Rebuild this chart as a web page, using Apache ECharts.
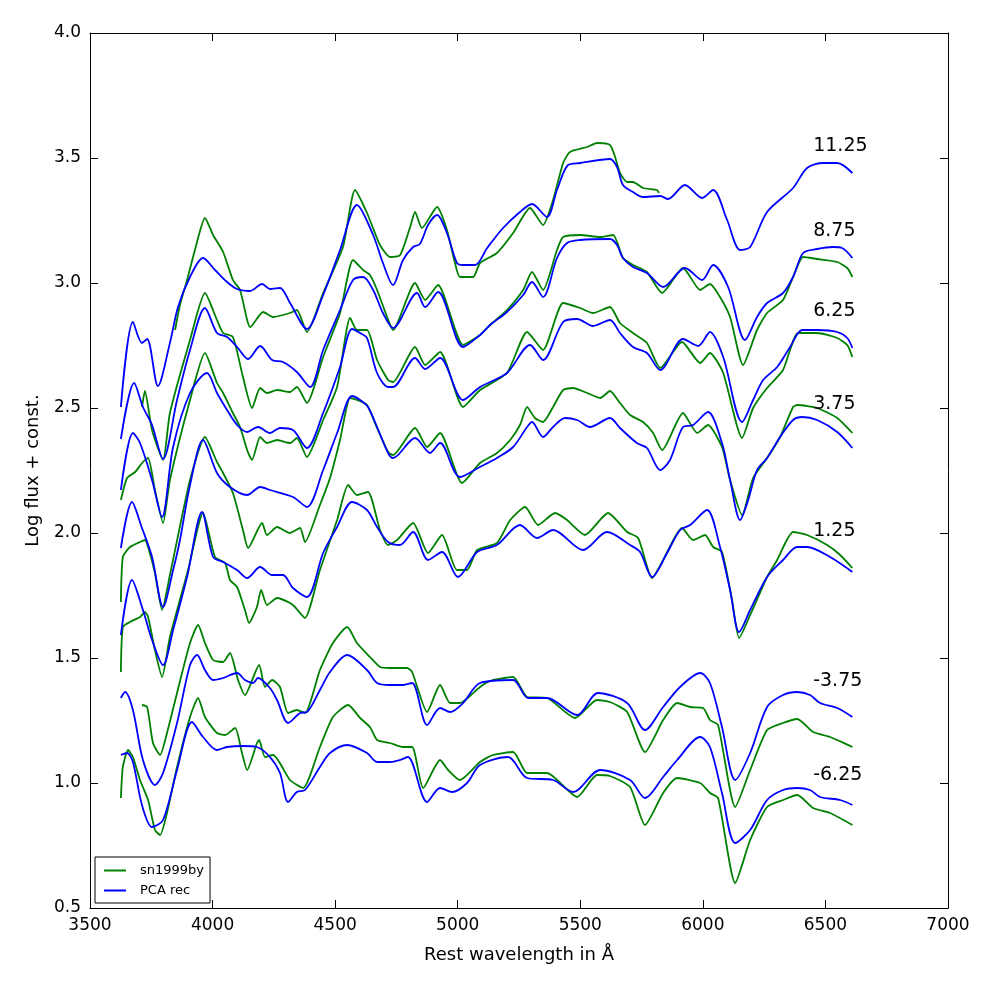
<!DOCTYPE html>
<html>
<head>
<meta charset="utf-8">
<script src="https://cdn.jsdelivr.net/npm/echarts@6/dist/echarts.min.js"></script>
<style>html,body{margin:0;padding:0;background:#fff;}#chart{width:997px;height:997px;}</style>
</head>
<body>
<div id="chart"></div>
<script>
// ---- data (wavelength in Angstrom, log flux + const.) ----
const phases = ['11.25', '8.75', '6.25', '3.75', '1.25', '-3.75', '-6.25'];
const phaseLabelX = 6450;
const phaseLabelY = [3.548, 3.208, 2.888, 2.516, 2.008, 1.408, 1.032];

const pca_11_25 = [[3626,2.504],[3675,2.844],[3712,2.760],[3733,2.776],[3777,2.588],[3826,2.760],[3859,2.904],[3908,3.024],[3961,3.100],[4010,3.052],[4059,3.004],[4100,2.976],[4153,2.968],[4202,2.996],[4234,2.976],[4275,2.980],[4316,2.920],[4385,2.816],[4451,2.952],[4520,3.132],[4589,3.312],[4655,3.192],[4695,3.080],[4736,2.992],[4777,3.092],[4818,3.144],[4846,3.156],[4879,3.232],[4916,3.272],[4956,3.200],[4997,3.080],[5022,3.072],[5071,3.072],[5120,3.140],[5185,3.220],[5254,3.284],[5303,3.316],[5364,3.264],[5405,3.372],[5450,3.472],[5499,3.480],[5621,3.496],[5650,3.464],[5674,3.392],[5715,3.364],[5756,3.344],[5826,3.348],[5858,3.336],[5927,3.392],[5997,3.340],[6042,3.372],[6099,3.252],[6152,3.132],[6193,3.144],[6262,3.284],[6368,3.380],[6425,3.460],[6490,3.480],[6548,3.480],[6610,3.440]];
const sn_11_25 = [[3847,2.812],[3867,2.912],[3896,3.012],[3928,3.132],[3969,3.260],[4002,3.192],[4043,3.124],[4083,3.012],[4112,2.972],[4141,2.852],[4153,2.824],[4206,2.884],[4247,2.864],[4316,2.880],[4344,2.892],[4385,2.804],[4451,2.960],[4532,3.144],[4581,3.372],[4630,3.280],[4683,3.152],[4724,3.104],[4765,3.112],[4806,3.224],[4826,3.284],[4854,3.220],[4916,3.304],[4956,3.212],[4989,3.080],[5009,3.024],[5063,3.024],[5091,3.080],[5160,3.120],[5226,3.200],[5295,3.300],[5348,3.232],[5389,3.332],[5430,3.480],[5458,3.524],[5528,3.544],[5568,3.560],[5621,3.552],[5642,3.504],[5662,3.440],[5691,3.404],[5715,3.404],[5756,3.380],[5813,3.372],[5821,3.360]];

const pca_8_75 = [[3626,2.376],[3680,2.600],[3716,2.504],[3753,2.432],[3798,2.296],[3855,2.532],[3908,2.732],[3969,2.900],[4018,2.800],[4059,2.784],[4100,2.744],[4145,2.696],[4194,2.748],[4243,2.692],[4287,2.684],[4344,2.644],[4398,2.584],[4451,2.732],[4520,2.892],[4573,3.012],[4614,3.024],[4655,2.972],[4695,2.880],[4736,2.820],[4834,2.960],[4867,2.904],[4920,2.964],[5022,2.744],[5091,2.792],[5132,2.832],[5201,2.884],[5267,2.952],[5303,3.004],[5348,2.944],[5405,3.100],[5446,3.160],[5499,3.172],[5621,3.176],[5650,3.152],[5674,3.100],[5715,3.064],[5772,3.040],[5838,2.984],[5927,3.060],[5997,3.012],[6042,3.072],[6103,2.984],[6172,2.772],[6221,2.864],[6262,2.920],[6327,2.960],[6368,3.024],[6409,3.120],[6466,3.136],[6531,3.144],[6568,3.140],[6610,3.100]];
const sn_8_75 = [[3712,2.504],[3724,2.568],[3753,2.412],[3798,2.292],[3826,2.480],[3908,2.772],[3969,2.960],[4018,2.852],[4043,2.800],[4083,2.784],[4124,2.624],[4161,2.500],[4194,2.580],[4222,2.560],[4263,2.572],[4316,2.564],[4344,2.584],[4385,2.520],[4451,2.704],[4520,2.880],[4573,3.092],[4614,3.052],[4642,3.032],[4671,2.972],[4712,2.864],[4736,2.812],[4826,3.000],[4867,2.932],[4920,2.992],[5022,2.752],[5091,2.792],[5132,2.832],[5201,2.892],[5267,2.972],[5303,3.044],[5348,2.972],[5405,3.132],[5430,3.184],[5499,3.192],[5581,3.184],[5634,3.192],[5674,3.100],[5715,3.072],[5772,3.044],[5834,2.960],[5919,3.060],[5989,2.972],[6029,2.996],[6070,2.944],[6111,2.864],[6164,2.672],[6221,2.812],[6262,2.880],[6327,2.932],[6368,3.024],[6409,3.104],[6466,3.096],[6548,3.084],[6589,3.060],[6610,3.024]];

const pca_6_25 = [[3626,2.172],[3675,2.400],[3704,2.360],[3753,2.212],[3794,2.064],[3839,2.344],[3908,2.560],[3977,2.640],[4018,2.560],[4059,2.492],[4100,2.432],[4141,2.404],[4185,2.424],[4234,2.400],[4275,2.420],[4328,2.412],[4385,2.340],[4451,2.480],[4520,2.664],[4569,2.816],[4602,2.800],[4630,2.780],[4671,2.640],[4716,2.584],[4736,2.584],[4826,2.700],[4867,2.656],[4928,2.700],[5022,2.532],[5091,2.584],[5201,2.640],[5295,2.752],[5348,2.692],[5430,2.844],[5487,2.856],[5552,2.828],[5621,2.852],[5662,2.800],[5715,2.744],[5772,2.720],[5826,2.652],[5919,2.776],[5981,2.748],[6029,2.804],[6083,2.704],[6160,2.444],[6205,2.532],[6246,2.612],[6303,2.664],[6356,2.744],[6405,2.812],[6466,2.812],[6548,2.804],[6589,2.780],[6610,2.740]];
const sn_6_25 = [[3626,2.132],[3651,2.220],[3684,2.244],[3716,2.284],[3737,2.300],[3765,2.172],[3798,2.040],[3826,2.212],[3908,2.532],[3969,2.720],[4018,2.600],[4043,2.560],[4083,2.480],[4112,2.424],[4141,2.332],[4161,2.292],[4194,2.384],[4222,2.360],[4263,2.372],[4316,2.360],[4344,2.380],[4385,2.304],[4451,2.452],[4508,2.584],[4561,2.860],[4589,2.812],[4630,2.812],[4671,2.692],[4716,2.612],[4736,2.604],[4826,2.744],[4867,2.672],[4928,2.724],[5022,2.504],[5091,2.572],[5201,2.640],[5283,2.804],[5348,2.732],[5430,2.920],[5499,2.900],[5552,2.880],[5621,2.904],[5662,2.840],[5715,2.800],[5772,2.760],[5826,2.660],[5915,2.764],[5989,2.680],[6029,2.720],[6083,2.640],[6160,2.380],[6205,2.500],[6262,2.580],[6327,2.652],[6389,2.800],[6466,2.800],[6548,2.780],[6589,2.752],[6610,2.704]];

const pca_3_75 = [[3626,1.940],[3671,2.124],[3712,2.020],[3753,1.904],[3798,1.704],[3839,1.852],[3867,1.972],[3908,2.192],[3961,2.372],[4018,2.240],[4071,2.184],[4141,2.152],[4194,2.184],[4234,2.172],[4328,2.144],[4385,2.104],[4451,2.252],[4508,2.400],[4569,2.548],[4602,2.532],[4634,2.504],[4671,2.424],[4716,2.320],[4736,2.300],[4826,2.380],[4887,2.320],[4928,2.360],[5009,2.224],[5091,2.264],[5160,2.300],[5226,2.344],[5283,2.424],[5303,2.444],[5348,2.384],[5389,2.424],[5438,2.460],[5487,2.452],[5540,2.424],[5621,2.460],[5662,2.420],[5731,2.360],[5772,2.340],[5826,2.252],[5866,2.292],[5919,2.424],[5960,2.432],[6021,2.484],[6078,2.360],[6111,2.212],[6152,2.052],[6185,2.132],[6221,2.252],[6262,2.300],[6315,2.384],[6368,2.452],[6405,2.464],[6466,2.452],[6548,2.404],[6610,2.340]];
const sn_3_75 = [[3626,1.724],[3634,1.904],[3663,1.944],[3704,1.964],[3724,1.972],[3737,1.944],[3765,1.840],[3794,1.692],[3826,1.832],[3908,2.212],[3969,2.384],[4018,2.284],[4043,2.240],[4083,2.160],[4124,2.012],[4145,1.940],[4202,2.040],[4222,1.992],[4263,2.024],[4316,2.000],[4357,2.020],[4377,1.964],[4438,2.112],[4479,2.220],[4520,2.372],[4561,2.540],[4589,2.532],[4630,2.512],[4671,2.420],[4716,2.324],[4736,2.312],[4826,2.420],[4875,2.344],[4928,2.400],[5018,2.200],[5091,2.280],[5160,2.320],[5214,2.372],[5254,2.432],[5283,2.504],[5315,2.460],[5348,2.444],[5389,2.504],[5430,2.572],[5471,2.580],[5528,2.560],[5581,2.540],[5621,2.568],[5662,2.520],[5703,2.472],[5756,2.444],[5797,2.400],[5834,2.332],[5919,2.480],[5977,2.400],[6021,2.432],[6078,2.344],[6111,2.212],[6160,2.072],[6205,2.220],[6262,2.300],[6315,2.384],[6368,2.504],[6385,2.512],[6466,2.500],[6548,2.460],[6610,2.400]];

const pca_1_25 = [[3626,1.592],[3671,1.812],[3716,1.692],[3753,1.572],[3798,1.472],[3839,1.612],[3896,1.824],[3957,2.084],[4002,1.904],[4043,1.884],[4100,1.852],[4141,1.820],[4194,1.864],[4243,1.832],[4287,1.832],[4328,1.780],[4385,1.744],[4451,1.920],[4508,2.024],[4569,2.124],[4630,2.092],[4671,2.024],[4716,1.964],[4765,1.952],[4818,2.004],[4879,1.892],[4936,1.924],[5001,1.824],[5079,1.924],[5160,1.952],[5254,2.032],[5324,1.980],[5389,2.012],[5511,1.932],[5609,2.004],[5703,1.952],[5744,1.924],[5793,1.824],[5854,1.920],[5907,2.012],[5948,2.032],[6017,2.092],[6070,1.944],[6111,1.772],[6148,1.604],[6193,1.692],[6262,1.824],[6327,1.892],[6385,1.944],[6425,1.944],[6519,1.904],[6610,1.844]];
const sn_1_25 = [[3626,1.444],[3634,1.624],[3663,1.644],[3704,1.664],[3724,1.684],[3737,1.664],[3765,1.532],[3794,1.424],[3826,1.584],[3900,1.852],[3961,2.080],[4010,1.904],[4051,1.880],[4071,1.812],[4100,1.784],[4132,1.692],[4149,1.640],[4181,1.704],[4198,1.772],[4222,1.712],[4263,1.740],[4316,1.720],[4336,1.704],[4377,1.660],[4438,1.852],[4508,2.052],[4553,2.192],[4589,2.152],[4634,2.164],[4683,2.012],[4716,1.952],[4753,1.972],[4818,2.040],[4879,1.920],[4936,1.992],[4997,1.852],[5038,1.852],[5079,1.932],[5160,1.960],[5214,2.052],[5275,2.104],[5328,2.032],[5397,2.080],[5446,2.052],[5519,1.992],[5613,2.080],[5691,2.004],[5736,1.980],[5793,1.820],[5838,1.892],[5915,2.020],[5960,1.972],[6009,1.992],[6042,1.944],[6078,1.924],[6119,1.732],[6148,1.580],[6193,1.672],[6262,1.824],[6303,1.892],[6368,2.004],[6425,1.992],[6507,1.952],[6560,1.912],[6610,1.860]];

const pca_m3_75 = [[3626,1.340],[3643,1.364],[3675,1.292],[3716,1.092],[3765,0.992],[3798,1.040],[3855,1.240],[3908,1.472],[3937,1.512],[3969,1.452],[4002,1.412],[4043,1.420],[4100,1.440],[4132,1.412],[4165,1.400],[4185,1.420],[4234,1.380],[4263,1.332],[4308,1.240],[4357,1.280],[4385,1.284],[4438,1.372],[4479,1.444],[4549,1.512],[4630,1.452],[4671,1.400],[4724,1.392],[4777,1.392],[4814,1.400],[4875,1.232],[4928,1.300],[4969,1.284],[5022,1.320],[5091,1.400],[5226,1.412],[5287,1.340],[5364,1.340],[5487,1.272],[5572,1.360],[5691,1.320],[5764,1.212],[5838,1.304],[5907,1.384],[5989,1.440],[6029,1.400],[6078,1.224],[6132,1.012],[6193,1.120],[6262,1.304],[6327,1.352],[6385,1.364],[6437,1.352],[6478,1.320],[6548,1.300],[6610,1.264]];
const sn_m3_75 = [[3712,1.312],[3733,1.304],[3757,1.160],[3786,1.112],[3814,1.200],[3855,1.360],[3908,1.560],[3941,1.632],[3969,1.560],[4002,1.492],[4043,1.484],[4071,1.520],[4104,1.412],[4132,1.352],[4190,1.472],[4214,1.384],[4243,1.412],[4275,1.384],[4308,1.280],[4344,1.292],[4377,1.280],[4438,1.452],[4491,1.560],[4549,1.624],[4589,1.560],[4642,1.504],[4683,1.464],[4724,1.460],[4793,1.460],[4814,1.444],[4875,1.284],[4928,1.392],[4969,1.320],[5009,1.320],[5091,1.384],[5132,1.408],[5226,1.424],[5283,1.344],[5364,1.340],[5479,1.260],[5568,1.332],[5621,1.324],[5691,1.284],[5764,1.124],[5838,1.252],[5895,1.320],[5948,1.304],[6001,1.300],[6029,1.252],[6062,1.232],[6132,0.904],[6193,1.052],[6262,1.212],[6327,1.240],[6385,1.256],[6450,1.204],[6519,1.184],[6610,1.144]];

const pca_m6_25 = [[3626,1.112],[3651,1.120],[3675,1.084],[3712,0.912],[3753,0.824],[3798,0.852],[3855,1.052],[3916,1.244],[3961,1.184],[4018,1.132],[4059,1.144],[4124,1.148],[4181,1.144],[4234,1.104],[4275,1.040],[4308,0.924],[4344,0.964],[4377,0.972],[4438,1.064],[4479,1.120],[4549,1.152],[4630,1.120],[4671,1.084],[4724,1.084],[4765,1.092],[4797,1.104],[4875,0.924],[4928,0.980],[4977,0.964],[5038,1.000],[5091,1.072],[5205,1.104],[5283,1.020],[5389,1.012],[5471,0.964],[5581,1.052],[5703,1.012],[5764,0.940],[5838,1.024],[5895,1.092],[5989,1.184],[6029,1.144],[6078,0.960],[6132,0.760],[6193,0.812],[6262,0.932],[6327,0.972],[6385,0.980],[6437,0.972],[6478,0.944],[6560,0.932],[6610,0.912]];
const sn_m6_25 = [[3626,0.940],[3634,1.064],[3655,1.132],[3675,1.104],[3704,1.012],[3737,0.932],[3765,0.812],[3786,0.792],[3814,0.880],[3855,1.064],[3908,1.264],[3941,1.340],[3969,1.264],[4018,1.200],[4051,1.192],[4092,1.220],[4120,1.120],[4141,1.052],[4181,1.160],[4190,1.172],[4214,1.104],[4247,1.112],[4316,1.012],[4369,0.980],[4438,1.144],[4491,1.264],[4553,1.312],[4602,1.260],[4642,1.224],[4671,1.172],[4724,1.160],[4777,1.144],[4814,1.144],[4859,0.980],[4928,1.092],[4961,1.052],[5009,1.012],[5091,1.084],[5144,1.112],[5226,1.124],[5283,1.040],[5364,1.040],[5487,0.944],[5568,1.032],[5621,1.028],[5703,0.984],[5764,0.832],[5838,0.960],[5895,1.020],[5989,1.000],[6029,0.960],[6062,0.940],[6132,0.600],[6193,0.772],[6262,0.904],[6327,0.932],[6385,0.952],[6450,0.900],[6519,0.880],[6610,0.832]];

const xTicks = [3500, 7000, 500];
const yTicks = [0.5, 4.0, 0.5];

// ---- chart ----
const GREEN = '#008000', BLUE = '#0000ff';
const FONT = 'DejaVu Sans';
const pairs = [
  [sn_11_25, pca_11_25], [sn_8_75, pca_8_75], [sn_6_25, pca_6_25], [sn_3_75, pca_3_75],
  [sn_1_25, pca_1_25], [sn_m3_75, pca_m3_75], [sn_m6_25, pca_m6_25]
];
const series = [];
pairs.forEach(function (p) {
  series.push({ name: 'sn1999by', type: 'line', data: p[0], showSymbol: false, smooth: 0.2,
    lineStyle: { color: GREEN, width: 1.8 }, itemStyle: { color: GREEN }, z: 2, silent: true, animation: false });
  series.push({ name: 'PCA rec', type: 'line', data: p[1], showSymbol: false, smooth: 0.3,
    lineStyle: { color: BLUE, width: 1.8 }, itemStyle: { color: BLUE }, z: 3, silent: true, animation: false });
});
series.push({
  name: 'phase', type: 'scatter', symbolSize: 0, silent: true, animation: false,
  itemStyle: { opacity: 1, color: '#000' },
  data: phases.map(function (t, i) { return { value: [phaseLabelX, phaseLabelY[i]], name: t }; }),
  label: { show: true, position: 'right', distance: 0, formatter: '{b}', color: '#000', opacity: 1,
    fontFamily: FONT, fontSize: 19 }
});

const axisCommon = {
  axisLine: { show: true, lineStyle: { color: '#000', width: 1 } },
  axisTick: { show: true, inside: true, length: 8, lineStyle: { color: '#000' } },
  splitLine: { show: false }
};

const chart = echarts.init(document.getElementById('chart'), null, { renderer: 'canvas' });
chart.setOption({
  animation: false,
  backgroundColor: '#fff',
  grid: { left: 90, right: 49, top: 33, bottom: 89, show: false },
  legend: {
    data: [{ name: 'sn1999by', icon: 'rect' }, { name: 'PCA rec', icon: 'rect' }],
    orient: 'vertical', left: 95, top: 857, itemWidth: 22, itemHeight: 2, itemGap: 7,
    padding: [7, 6, 6, 9], borderColor: '#000', borderWidth: 1, backgroundColor: '#fff',
    textStyle: { fontFamily: FONT, fontSize: 13, color: '#000', padding: [0, 0, 0, 9] }, selectedMode: false
  },
  xAxis: [
    Object.assign({ type: 'value', min: xTicks[0], max: xTicks[1], interval: xTicks[2], position: 'bottom',
      name: 'Rest wavelength in Å', nameLocation: 'middle', nameGap: 38,
      nameTextStyle: { fontFamily: FONT, fontSize: 18, color: '#000' },
      axisLabel: { fontFamily: FONT, fontSize: 17, color: '#000', margin: 9,
        formatter: function (v) { return String(v); } } }, axisCommon),
    Object.assign({ type: 'value', min: xTicks[0], max: xTicks[1], interval: xTicks[2], position: 'top',
      axisLabel: { show: false } }, axisCommon)
  ],
  yAxis: [
    Object.assign({ type: 'value', min: yTicks[0], max: yTicks[1], interval: yTicks[2], position: 'left',
      name: 'Log flux + const.', nameLocation: 'middle', nameGap: 48,
      nameTextStyle: { fontFamily: FONT, fontSize: 18, color: '#000' },
      axisLabel: { fontFamily: FONT, fontSize: 17, color: '#000', margin: 9,
        formatter: function (v) { return v.toFixed(1); } } }, axisCommon),
    Object.assign({ type: 'value', min: yTicks[0], max: yTicks[1], interval: yTicks[2], position: 'right',
      axisLabel: { show: false } }, axisCommon)
  ],
  series: series
});
</script>
</body>
</html>
